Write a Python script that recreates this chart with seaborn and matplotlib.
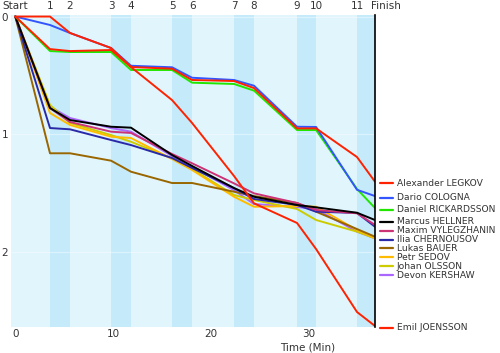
import matplotlib
matplotlib.use("Agg")
import matplotlib.pyplot as plt
import matplotlib.transforms as mtransforms
import pandas as pd
import seaborn as sns

CHECKPOINTS = ["Start", "1", "2", "3", "4", "5", "6", "7", "8", "9", "10", "11", "Finish"]
CHECKPOINT_MIN = [0, 3.55, 5.60, 9.80, 11.84, 16.04, 18.09, 22.38, 24.43, 28.83, 30.78, 34.97, 36.81]

# gap behind the leader at each checkpoint
LEGKOV = [0, 0, 0.14, 0.268, 0.43, 0.444, 0.54, 0.549, 0.609, 0.952, 0.952, 1.196, 1.406]
COLOGNA = [0, 0.072, 0.14, 0.268, 0.419, 0.432, 0.521, 0.540, 0.589, 0.938, 0.940, 1.475, 1.528]
RICKARDSSON = [0, 0.294, 0.302, 0.302, 0.455, 0.455, 0.563, 0.574, 0.631, 0.966, 0.966, 1.468, 1.630]
HELLNER = [0, 0.779, 0.881, 0.938, 0.946, 1.179, 1.272, 1.460, 1.534, 1.604, 1.624, 1.670, 1.732]
VYLEGZHANIN = [0, 0.779, 0.898, 0.980, 0.991, 1.170, 1.249, 1.420, 1.505, 1.587, 1.647, 1.675, 1.774]
CHERNOUSOV = [0, 0.949, 0.960, 1.051, 1.094, 1.204, 1.289, 1.460, 1.553, 1.604, 1.661, 1.672, 1.789]
BAUER = [0, 1.164, 1.164, 1.227, 1.321, 1.417, 1.417, 1.491, 1.528, 1.587, 1.661, 1.809, 1.874]
SEDOV = [0, 0.821, 0.923, 1.023, 1.034, 1.213, 1.306, 1.534, 1.619, 1.613, 1.619, 1.817, 1.885]
OLSSON = [0, 0.753, 0.906, 1.009, 1.066, 1.207, 1.298, 1.519, 1.562, 1.638, 1.732, 1.831, 1.888]
KERSHAW = [0, 0.768, 0.864, 0.949, 0.980, 1.187, 1.281, 1.477, 1.596, 1.621, 1.638, 1.831, 1.888]
JOENSSON = [0, 0.277, 0.294, 0.285, 0.43, 0.711, 0.906, 1.357, 1.590, 1.757, 1.979, 2.515, 2.634]

NAMES = ["Alexander LEGKOV", "Dario COLOGNA", "Daniel RICKARDSSON", "Marcus HELLNER",
         "Maxim VYLEGZHANIN", "Ilia CHERNOUSOV", "Lukas BAUER", "Petr SEDOV",
         "Johan OLSSON", "Devon KERSHAW", "Emil JOENSSON"]
GAPS = [LEGKOV, COLOGNA, RICKARDSSON, HELLNER, VYLEGZHANIN, CHERNOUSOV, BAUER,
        SEDOV, OLSSON, KERSHAW, JOENSSON]
COLORS = ["#ff2200", "#3355ff", "#22e600", "#000000", "#cc3377", "#2a2aa8",
          "#996600", "#ffbb00", "#cccc00", "#aa66ff", "#ff2200"]

BG = "#e1f5fd"
BAND = "#c5ebfb"


def build_frame():
    rows = []
    for name, gaps in zip(NAMES, GAPS):
        for t, g in zip(CHECKPOINT_MIN, gaps):
            rows.append({"skier": name, "minute": t, "gap": g})
    return pd.DataFrame(rows)


def label_positions(spacing=0.0757):
    pos = []
    for gaps in GAPS:
        y = gaps[-1]
        if pos:
            y = max(y, pos[-1] + spacing)
        pos.append(y)
    return pos


def main():
    sns.set_style("white")
    plt.rcParams["font.family"] = ["DejaVu Sans"]
    plt.rcParams["font.size"] = 6.6

    df = build_frame()
    fig = plt.figure(figsize=(5, 3.53), dpi=100)
    ax = fig.add_axes([0.022, 0.0745, 0.728, 0.883])
    ax.set_facecolor(BG)

    finish = CHECKPOINT_MIN[-1]
    for a, b in zip(CHECKPOINT_MIN[1::2], CHECKPOINT_MIN[2::2]):
        ax.axvspan(a, b, color=BAND, lw=0, zorder=0)

    draw_order = NAMES[3:10][::-1] + NAMES[:3][::-1] + [NAMES[10]]
    sns.lineplot(data=df, x="minute", y="gap", hue="skier", hue_order=draw_order,
                 palette=dict(zip(NAMES, COLORS)), sort=False, estimator=None,
                 linewidth=1.4, legend=False, ax=ax)

    ax.set_xlim(-0.44, finish)
    ax.set_ylim(2.64, -0.013)
    ax.set_xticks([0, 10, 20, 30])
    ax.set_yticks([0, 1, 2])
    ax.grid(axis="y", color="white", lw=0.8, alpha=0.4)
    ax.tick_params(length=0, pad=2, colors="#333333", labelsize=7.5)
    for side in ["top", "left", "bottom"]:
        ax.spines[side].set_visible(False)
    ax.spines["right"].set_color("black")
    ax.spines["right"].set_linewidth(1.2)
    ax.set_ylabel("")
    ax.set_xlabel("Time (Min)", color="#333333", fontsize=7.5)
    ax.xaxis.set_label_coords(0.816, -0.068)
    ax.xaxis.label.set_va("center")

    top = mtransforms.blended_transform_factory(ax.transData, ax.transAxes)
    for lab, t in zip(CHECKPOINTS, CHECKPOINT_MIN):
        dx = 8 if lab == "Finish" else 0
        ax.annotate(lab, xy=(t, 1.029), xycoords=top, xytext=(dx, 0),
                    textcoords="offset points", ha="center", va="center",
                    color="#333333", fontsize=7.5, annotation_clip=False)

    side = mtransforms.blended_transform_factory(ax.transAxes, ax.transData)
    for name, color, y in zip(NAMES, COLORS, label_positions()):
        ax.plot([1.0137, 1.0486], [y + 0.015, y + 0.015], color=color, lw=1.6,
                transform=side, clip_on=False)
        ax.text(1.0604, y + 0.015, name, transform=side, ha="left", va="center",
                color="#333333", clip_on=False)

    fig.savefig("out.png", dpi=100)
    plt.close(fig)


if __name__ == "__main__":
    main()
